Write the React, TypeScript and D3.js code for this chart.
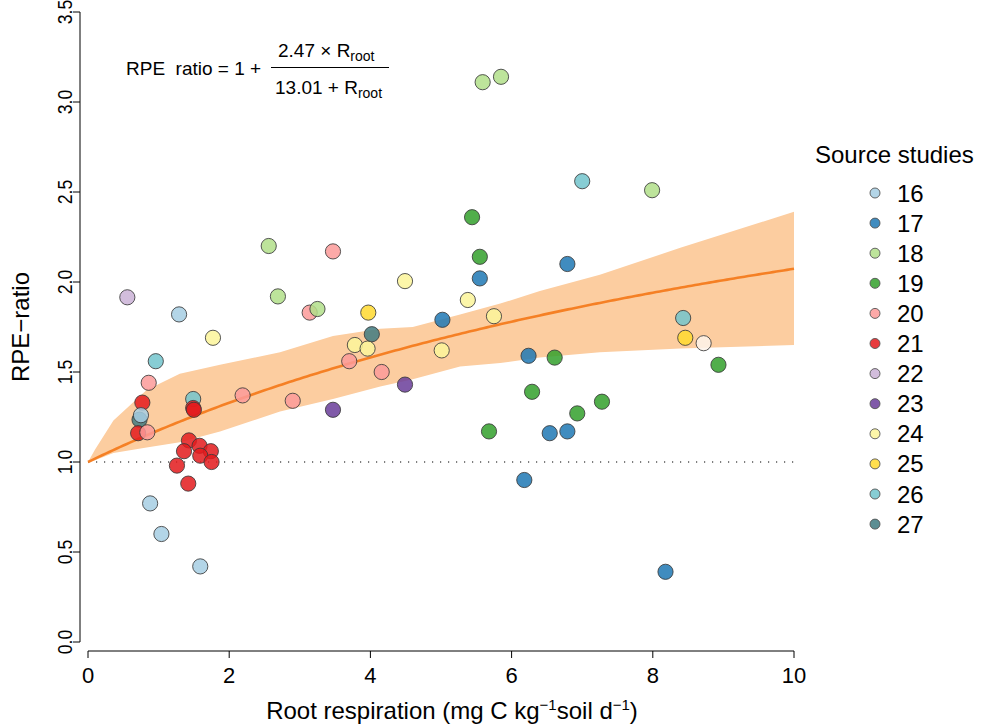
import React from "react";
import * as d3 from "d3";

// Source studies shown in the legend and their fill colours
const STUDIES = ["16", "17", "18", "19", "20", "21", "22", "23", "24", "25", "26", "27"];
const STUDY_COLORS = [
  "#a6cee3", "#1f78b4", "#b2df8a", "#33a02c", "#fb9a99", "#e31a1c",
  "#cab2d6", "#6a3d9a", "#fbf59a", "#ffd92f", "#72c4cc", "#3f7a80",
];
// one observation has no listed study
const UNLISTED = "other";
const UNLISTED_COLOR = "#fdf3ea";

// Observations: root respiration (mg C kg-1 soil d-1) vs RPE ratio
const rootResp = [
  0.557, 1.29, 2.69, 1.77, 0.96, 0.86, 0.77, 1.49, 1.49, 1.50, 0.73, 0.75, 2.19, 0.71, 0.84,
  1.43, 1.58, 1.36, 1.74, 1.59, 1.75, 1.26, 1.42,
  0.88, 1.04, 1.59,
  2.56, 3.47, 3.14, 3.25, 4.49, 5.44, 5.55, 5.55, 5.38, 3.97, 4.02, 5.75, 5.02,
  3.78, 3.96, 5.01, 3.70, 4.16, 4.49, 6.24, 6.29, 2.90, 3.47,
  5.59, 5.85, 7.00, 7.99, 6.79,
  6.61, 8.43, 8.46, 8.72, 8.93, 7.28, 6.93, 6.54, 6.79, 5.68, 6.18, 8.18,
];
const rpeRatio = [
  1.915, 1.82, 1.92, 1.69, 1.56, 1.44, 1.33, 1.35, 1.30, 1.29, 1.235, 1.26, 1.37, 1.16, 1.165,
  1.12, 1.09, 1.06, 1.06, 1.035, 1.0, 0.98, 0.88,
  0.77, 0.60, 0.42,
  2.20, 2.17, 1.83, 1.85, 2.005, 2.36, 2.14, 2.02, 1.90, 1.83, 1.71, 1.81, 1.79,
  1.65, 1.63, 1.62, 1.56, 1.50, 1.43, 1.59, 1.39, 1.34, 1.29,
  3.11, 3.14, 2.56, 2.51, 2.10,
  1.58, 1.80, 1.69, 1.66, 1.54, 1.335, 1.27, 1.16, 1.17, 1.17, 0.90, 0.39,
];
const pointStudy = [
  "22", "16", "18", "24", "26", "20", "21", "26", "21", "21", "27", "16", "20", "21", "20",
  "21", "21", "21", "21", "21", "21", "21", "21",
  "16", "16", "16",
  "18", "20", "20", "18", "24", "19", "19", "17", "24", "25", "27", "24", "17",
  "24", "24", "24", "20", "20", "23", "17", "19", "20", "23",
  "18", "18", "26", "18", "17",
  "19", "26", "25", UNLISTED, "19", "19", "19", "17", "17", "19", "17", "17",
];

// Confidence band of the fitted curve
const bandX = [0, 0.1, 0.36, 0.83, 1.3, 1.87, 2.72, 3.47, 4.14, 4.6, 5.27, 5.84, 6.4, 7.25, 8.39, 10];
const bandLow = [1.0, 1.01, 1.05, 1.08, 1.11, 1.17, 1.28, 1.35, 1.42, 1.46, 1.53, 1.55, 1.58, 1.61, 1.63, 1.65];
const bandHigh = [1.0, 1.07, 1.23, 1.4, 1.49, 1.54, 1.61, 1.7, 1.74, 1.75, 1.82, 1.88, 1.95, 2.04, 2.19, 2.39];

// Fitted saturating model: RPE = 1 + a*R / (b + R)
const FIT_A = 2.47;
const FIT_B = 13.01;

const xTicks = [0, 2, 4, 6, 8, 10];
const yTicks = [0, 0.5, 1, 1.5, 2, 2.5, 3, 3.5];

const W = 984;
const H = 728;
const FONT = "'Liberation Sans', Arial, Helvetica, sans-serif";

export default function App() {
  const x = d3.scaleLinear().domain([0, 10]).range([88, 794]);
  const y = d3.scaleLinear().domain([0, 3.5]).range([642, 12]);
  const colorOf = (s: string) =>
    s === UNLISTED ? UNLISTED_COLOR : STUDY_COLORS[STUDIES.indexOf(s)];

  const band = d3
    .area<number>()
    .x((_, i) => x(bandX[i]))
    .y0((_, i) => y(bandLow[i]))
    .y1((_, i) => y(bandHigh[i]))(bandX);

  const fitXs = d3.range(0, 10.0001, 0.05);
  const fitPath = d3
    .line<number>()
    .x((v) => x(v))
    .y((v) => y(1 + (FIT_A * v) / (FIT_B + v)))(fitXs);

  const axisY = 651;
  const axisX = 80;

  return (
    <svg
      width={W}
      height={H}
      style={{ position: "absolute", left: 0, top: 0, background: "#fff" }}
      fontFamily={FONT}
    >
      {/* confidence band and fitted curve */}
      <path d={band ?? ""} fill="#fccda0" />
      <line
        x1={x(0)}
        x2={x(10)}
        y1={y(1)}
        y2={y(1)}
        stroke="#000"
        strokeWidth={1.2}
        strokeDasharray="1.2 6.8"
      />
      <path d={fitPath ?? ""} fill="none" stroke="#f58025" strokeWidth={2.6} />

      {/* observations */}
      {rootResp.map((r, i) => (
        <circle
          key={i}
          cx={x(r)}
          cy={y(rpeRatio[i])}
          r={7.6}
          fill={colorOf(pointStudy[i])}
          fillOpacity={0.85}
          stroke="#3a3a3a"
          strokeOpacity={0.85}
          strokeWidth={1}
        />
      ))}

      {/* x axis */}
      <line x1={x(0)} x2={x(10)} y1={axisY} y2={axisY} stroke="#000" strokeWidth={1} />
      {xTicks.map((t) => (
        <g key={t}>
          <line x1={x(t)} x2={x(t)} y1={axisY} y2={axisY + 7} stroke="#000" />
          <text x={x(t)} y={683} fontSize={22} textAnchor="middle">
            {t}
          </text>
        </g>
      ))}
      <text x={452} y={719} fontSize={24} textAnchor="middle">
        Root respiration (mg C kg
        <tspan fontSize={15} dy={-9}>
          −1
        </tspan>
        <tspan dy={9}>soil d</tspan>
        <tspan fontSize={15} dy={-9}>
          −1
        </tspan>
        <tspan dy={9}>)</tspan>
      </text>

      {/* y axis */}
      <line x1={axisX} x2={axisX} y1={y(0)} y2={y(3.5)} stroke="#000" strokeWidth={1} />
      {yTicks.map((t) => (
        <g key={t}>
          <line x1={axisX - 7} x2={axisX} y1={y(t)} y2={y(t)} stroke="#000" />
          <text
            transform={`translate(72,${y(t)}) rotate(-90) scale(0.84,1)`}
            fontSize={21}
            textAnchor="middle"
          >
            {t.toFixed(1)}
          </text>
        </g>
      ))}
      <text transform={`translate(29,${y(1.75)}) rotate(-90)`} fontSize={24} textAnchor="middle">
        RPE−ratio
      </text>

      {/* model equation */}
      <text x={126} y={75} fontSize={19} style={{ whiteSpace: "pre" }}>
        {"RPE  ratio = 1 +"}
      </text>
      <text x={278} y={57} fontSize={19}>
        2.47 × R
        <tspan fontSize={14} dy={4}>
          root
        </tspan>
      </text>
      <line x1={271} x2={389} y1={67.5} y2={67.5} stroke="#000" strokeWidth={1} />
      <text x={275} y={94} fontSize={19}>
        13.01 + R
        <tspan fontSize={14} dy={4}>
          root
        </tspan>
      </text>

      {/* legend */}
      <text x={815} y={163} fontSize={24}>
        Source studies
      </text>
      {STUDIES.map((s, i) => {
        const cy = 193 + i * 30.1;
        return (
          <g key={s}>
            <circle
              cx={875}
              cy={cy}
              r={5}
              fill={STUDY_COLORS[i]}
              fillOpacity={0.85}
              stroke="#555"
              strokeWidth={0.9}
            />
            <text x={897} y={cy + 8.5} fontSize={24}>
              {s}
            </text>
          </g>
        );
      })}
    </svg>
  );
}
